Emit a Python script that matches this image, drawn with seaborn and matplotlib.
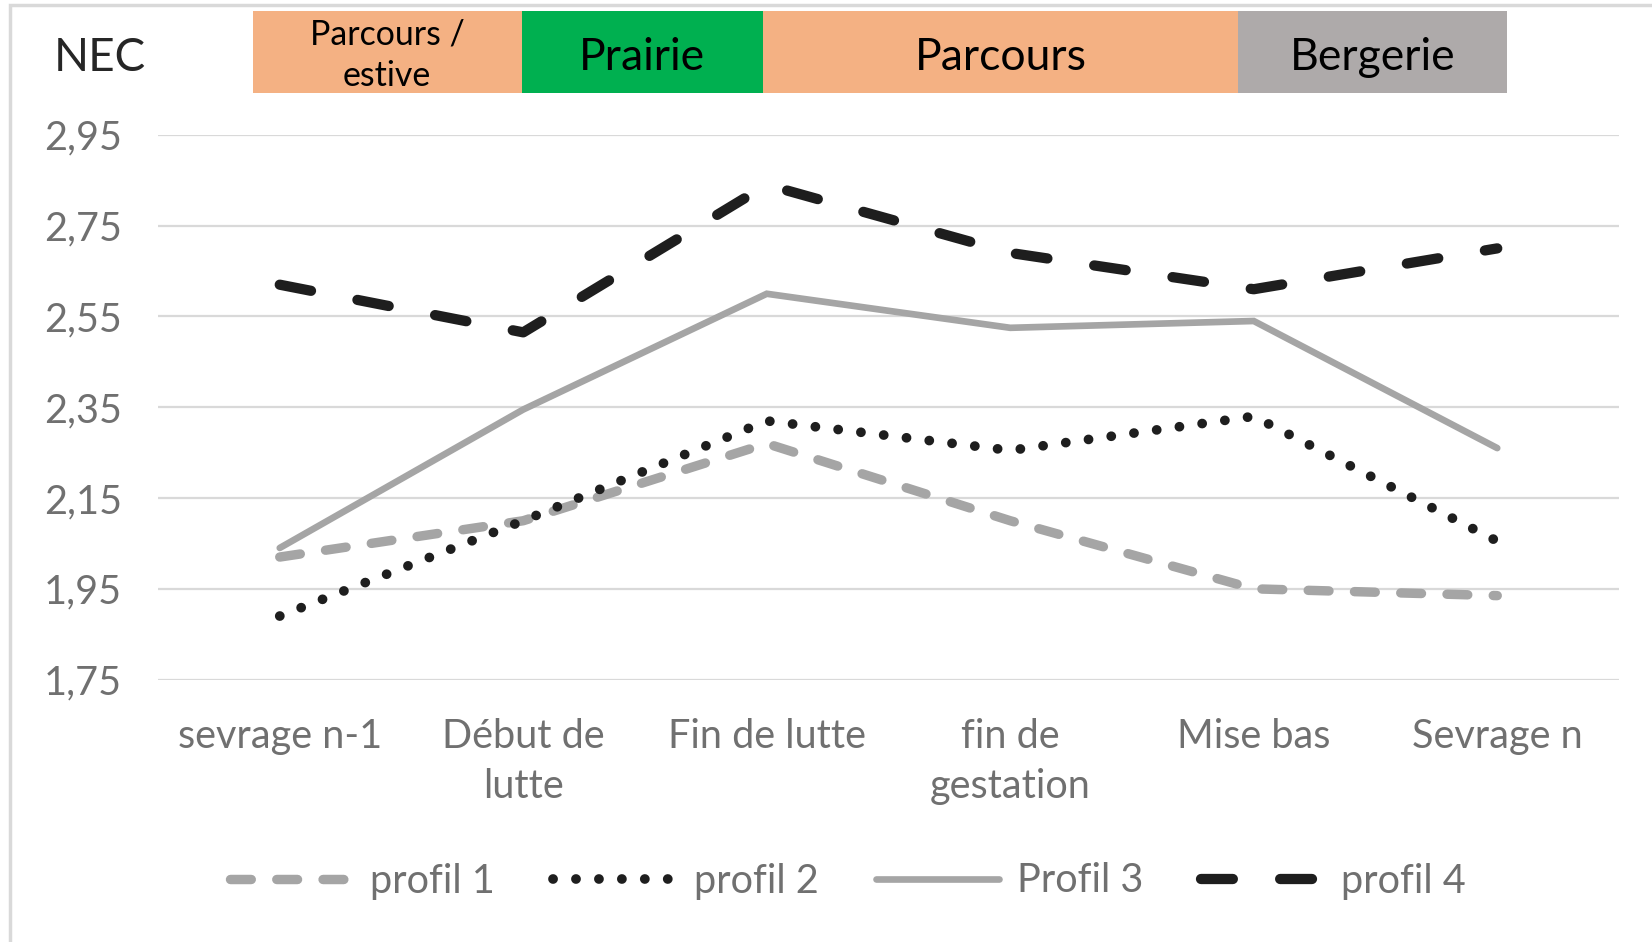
import matplotlib
matplotlib.use("Agg")
import matplotlib.pyplot as plt
import seaborn as sns
from matplotlib.patches import Rectangle

# ---- data ----
categories = ["sevrage n-1", "Début de\nlutte", "Fin de lutte", "fin de\ngestation", "Mise bas", "Sevrage n"]
profil1 = [2.02, 2.10, 2.27, 2.10, 1.95, 1.935]
profil2 = [1.89, 2.10, 2.32, 2.255, 2.33, 2.055]
profil3 = [2.04, 2.345, 2.60, 2.525, 2.54, 2.26]
profil4 = [2.62, 2.515, 2.84, 2.69, 2.61, 2.70]
series_names = ["profil 1", "profil 2", "Profil 3", "profil 4"]
yticks = [1.75, 1.95, 2.15, 2.35, 2.55, 2.75, 2.95]
banner_labels = ["Parcours /\nestive", "Prairie", "Parcours", "Bergerie"]

sns.set_theme(style="white")
plt.rcParams['font.family'] = ['Lato', 'DejaVu Sans']

W, H = 1652, 942
fig = plt.figure(figsize=(W / 100, H / 100), dpi=100)
fig.patch.set_facecolor("white")

# axes placement (pixels)
left, right, top, bottom = 158, 1619, 134.9, 679.6
ax = fig.add_axes([left / W, 1 - bottom / H, (right - left) / W, (bottom - top) / H])

grey = "#A5A5A5"
black = "#1E1E1E"
styles = [
    dict(color=grey, lw=6.8, ls=(0, (2.2, 2.7))),
    dict(color=black, lw=7.0, ls=(0, (0.01, 2.35))),
    dict(color=grey, lw=4.8, ls="-"),
    dict(color=black, lw=7.4, ls=(0, (3.1, 4.6))),
]
data = [profil1, profil2, profil3, profil4]
for name, vals, st in zip(series_names, data, styles):
    sns.lineplot(x=categories, y=vals, ax=ax, sort=False, label=name,
                 color=st["color"], linewidth=st["lw"], linestyle=st["ls"])
    ln = ax.lines[-1]
    ln.set_dash_capstyle("round")
    ln.set_solid_capstyle("round")
    ln.set_solid_joinstyle("miter")
    ln.set_clip_on(False)

FS = 28.5
ax.set_xlim(-0.5, len(categories) - 0.5)
ax.set_ylim(1.75, 2.95)
ax.set_yticks(yticks)
ax.set_yticklabels([f"{v:.2f}".replace(".", ",") for v in yticks])
ax.grid(axis="y", color="#D9D9D9", lw=1.6)
ax.grid(axis="x", visible=False)
for s in ax.spines.values():
    s.set_visible(False)
ax.tick_params(axis="both", length=0, labelsize=FS, labelcolor="#707070")
ax.tick_params(axis="y", pad=26)
ax.tick_params(axis="x", pad=28)
for t in ax.get_xticklabels():
    t.set_linespacing(1.42)
ax.set_xlabel("")
ax.set_ylabel("")

# legend
handles, labels = ax.get_legend_handles_labels()
if ax.legend_:
    ax.legend_.remove()
fig.legend(handles, labels, loc="center", bbox_to_anchor=(848 / W, 1 - 881 / H),
           ncol=4, frameon=False, fontsize=FS, handlelength=3.1,
           handletextpad=0.45, columnspacing=1.46, labelcolor="#707070")

# outer frame (left and top edges visible)
fig.add_artist(Rectangle((10 / W, -0.05), 1.2, 1 - 5 / H + 0.05, transform=fig.transFigure,
                         fill=False, edgecolor="#D9D9D9", lw=2.5))

# NEC label
fig.text(100 / W, 1 - 70.6 / H, "NEC", ha="center", va="baseline", fontsize=33, color="#262626")

# banner
edges = [252.9, 521.5, 762.8, 1238.0, 1506.6]
colors = ["#F4B183", "#00B050", "#F4B183", "#AEAAAA"]
btop, bbot = 10.5, 92.7
for i, lab in enumerate(banner_labels):
    x0, x1 = edges[i], edges[i + 1]
    fig.add_artist(Rectangle((x0 / W, 1 - bbot / H), (x1 - x0) / W, (bbot - btop) / H,
                             transform=fig.transFigure, facecolor=colors[i], edgecolor="none"))
    xc = (x0 + x1) / 2 / W
    if "\n" in lab:
        fig.text(xc, 1 - 55 / H, lab, ha="center", va="center",
                 fontsize=24.4, color="black", linespacing=1.36)
    else:
        fig.text(xc, 1 - 69.5 / H, lab, ha="center", va="baseline",
                 fontsize=32, color="black")

fig.savefig("out.png", dpi=100, facecolor="white")
